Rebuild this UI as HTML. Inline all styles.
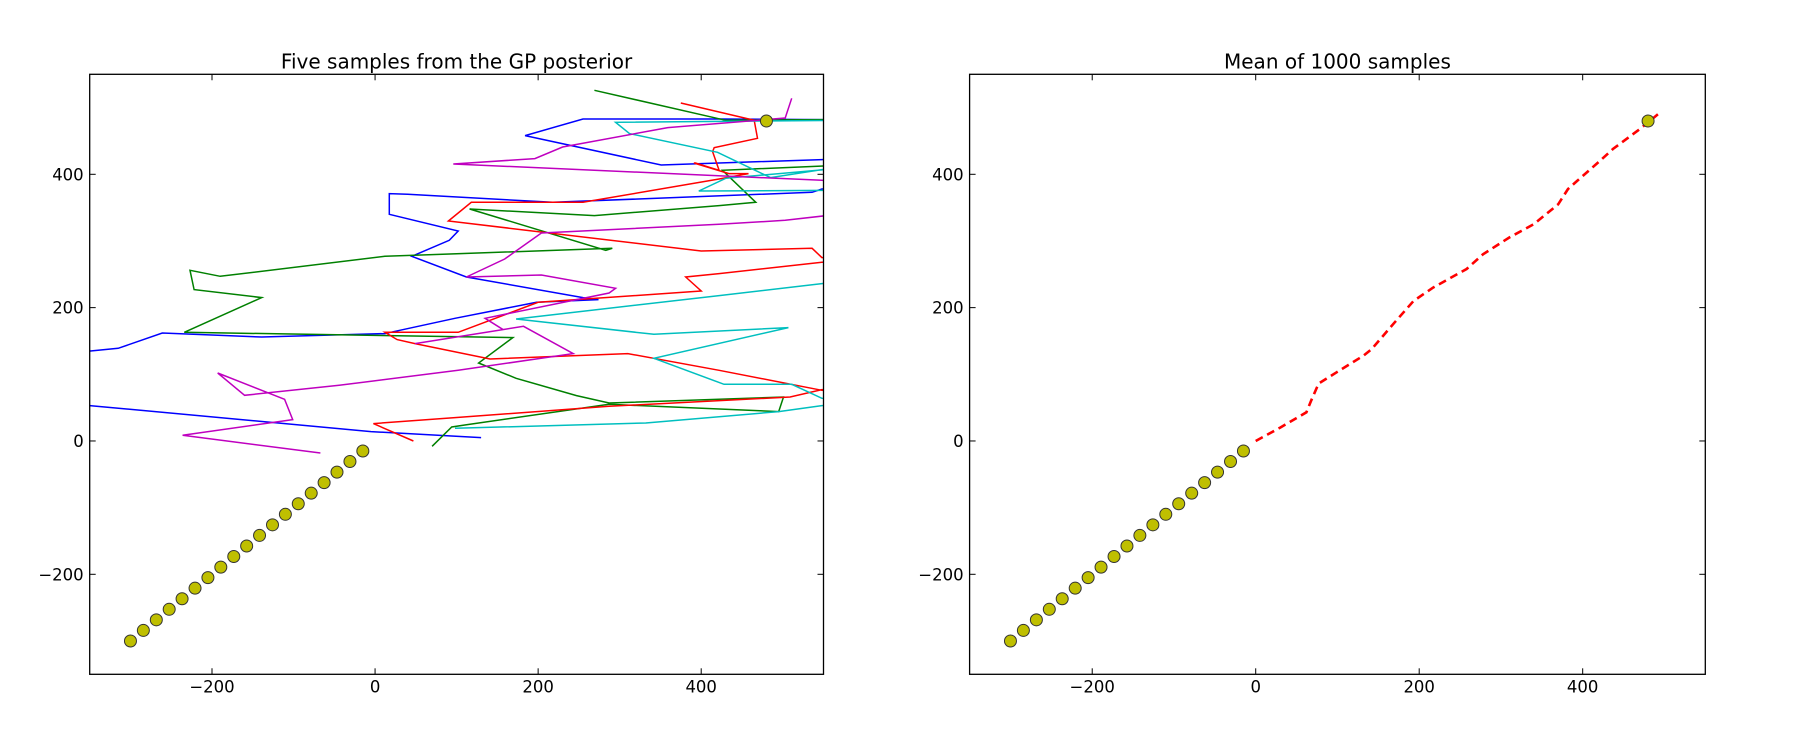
<!DOCTYPE html>
<html><head><meta charset="utf-8"><style>
html,body{margin:0;padding:0;background:#fff;}
svg{display:block;font-family:"DejaVu Sans","Liberation Sans",sans-serif;}
</style></head><body>
<svg id="fig" width="1795" height="750" viewBox="0 0 1795 750" xmlns="http://www.w3.org/2000/svg">
<defs>
<clipPath id="clipL"><rect x="89.7" y="74.3" width="733.8" height="600"/></clipPath>
<clipPath id="clipR"><rect x="969.6" y="74.3" width="735.7" height="600"/></clipPath>
</defs>
</svg>
<script>
// observed data
const obsX = [-300,-284.2,-268.3,-252.5,-236.7,-220.8,-205,-189.2,-173.3,-157.5,-141.7,-125.8,-110,-94.2,-78.3,-62.5,-46.7,-30.8,-15,480];
const obsY = [-300,-284.2,-268.3,-252.5,-236.7,-220.8,-205,-189.2,-173.3,-157.5,-141.7,-125.8,-110,-94.2,-78.3,-62.5,-46.7,-30.8,-15,480];
// samples (null = break)
const blueX = [130,-5,-350,-380,null,-380,-349,-315,-261,-139,12,19,98,198,274,255,112,45,91,102,17.5,17.5,40,218,385,536,548,580,null,580,548,422,351,184,255,422,548,580];
const blueY = [5,14,53,56,null,133,135,139,162,156,161,163,184,208,212,215,246,277,301,315,340,371,370,358,366,373,378,382,null,424,422,417,414,458,483,483,482,482];
const greenX = [70,94,110,287,495,501,287,247,173,127,169,-234,-139,-222,-227,-190,12,291,283,116,269,422,467,426,560,600,560,430,269];
const greenY = [-8,21,24,55,44,66,57,68,94,117,155,163,215,227,256,247,277,289,286,348,338,353,358,406,413,450,482,481,526];
const redX = [47,-2,98,287,509,548,580,580,548,422,310,141,49,27,12,102,200,400,381,422,548,580,580,548,536,400,90,118,255,422,458,434,391,393,422,414,416,469,465,375];
const redY = [0,26,35,52,66,77,78,74,76,106,131,123,146,152,163,163,208,225,246,251,268,271,273,275,289,285,330,358,358,393,401,401,417,417,406,434,440,454,481,507];
const cyanX = [98,332,495,548,580,580,548,511,428,342,507,342,173,422,548,580,null,580,397,430,580,null,580,548,485,420,312,295,580];
const cyanY = [19,27,44,53,56,62,64,85,85,124,170,160,183,218,236,240,null,376,375,394,410,null,409,407,395,433,461,478,481];
const magX = [-67,-236,-101,-111,-193,-160,-44,102,243,182,49,157,135,287,295,204,112,159,204,422,503,560,600,560,548,96,196,230,359,503,511];
const magY = [-18,8.5,32,62.5,102,68.5,83.5,106,131,172,146,167,184,222,229,249,246,273,312,325,331,339,360,390,391,415.5,423.5,441,470,484.5,514];
// mean of 1000 samples
const meanX = [0,30,62,68,77,99,132,142,168,193,217,258,278,310,340,370,382,393,421,437,470,492];
const meanY = [0,20,43,61,86,103,128,138,175,210,230,258,280,305,325,355,378,390,420,438,468,490];
// ticks
const xTicks = [-200,0,200,400];
const xTickLabels = ["\u2212200","0","200","400"];
const yTicks = [-200,0,200,400];
const yTickLabels = ["\u2212200","0","200","400"];

const NS = "http://www.w3.org/2000/svg";
const svg = document.getElementById('fig');
function mk(tag, attrs, parent){const e=document.createElementNS(NS,tag);for(const k in attrs)e.setAttribute(k,attrs[k]);(parent||svg).appendChild(e);return e;}

const axes = [
  {x0:89.7, x1:823.5, clip:'clipL', title:'Five samples from the GP posterior', name:'samples'},
  {x0:969.6, x1:1705.3, clip:'clipR', title:'Mean of 1000 samples', name:'mean'}
];
const Y0=74.3, Y1=674.3, DMIN=-350, DMAX=550;
function sx(ax,v){return ax.x0+(v-DMIN)/(DMAX-DMIN)*(ax.x1-ax.x0);}
function sy(v){return Y1-(v-DMIN)/(DMAX-DMIN)*(Y1-Y0);}

function pathD(ax,xs,ys){let d='',pen=false;for(let i=0;i<xs.length;i++){if(xs[i]===null){pen=false;continue;}d+=(pen?'L':'M')+sx(ax,xs[i]).toFixed(1)+','+sy(ys[i]).toFixed(1);pen=true;}return d;}

function drawAxes(ax, idx){
  const g = mk('g',{});
  
  
  const t = mk('text',{x:(ax.x0+ax.x1)/2,y:68.5,'font-size':'20','text-anchor':'middle',fill:'#000'},g);
  t.textContent = ax.title;
  
  
  const pg = mk('g',{'clip-path':'url(#'+ax.clip+')'},g);
  
  
  return {g,pg};
}

function drawFrame(ax,g){
  const fr = mk('rect',{x:ax.x0,y:Y0,width:ax.x1-ax.x0,height:Y1-Y0,fill:'none',stroke:'#000','stroke-width':'1.3'},g);
  
  
  xTicks.forEach((v,i)=>{
    const x=sx(ax,v);
    mk('line',{x1:x,y1:Y1,x2:x,y2:Y1-6,stroke:'#000','stroke-width':'1'},g);
    mk('line',{x1:x,y1:Y0,x2:x,y2:Y0+6,stroke:'#000','stroke-width':'1'},g);
    const tl = mk('text',{x:x,y:692.5,'font-size':'16.5','text-anchor':'middle',fill:'#000'},g);
    tl.textContent = xTickLabels[i];
    
    
  });
  yTicks.forEach((v,i)=>{
    const y=sy(v);
    mk('line',{x1:ax.x0,y1:y,x2:ax.x0+6,y2:y,stroke:'#000','stroke-width':'1'},g);
    mk('line',{x1:ax.x1,y1:y,x2:ax.x1-6,y2:y,stroke:'#000','stroke-width':'1'},g);
    const tl = mk('text',{x:ax.x0-6,y:y+6,'font-size':'16.5','text-anchor':'end',fill:'#000'},g);
    tl.textContent = yTickLabels[i];
    
    
  });
}

function drawObs(ax,pg){
  for(let i=0;i<obsX.length;i++){
    const c = mk('circle',{cx:sx(ax,obsX[i]),cy:sy(obsY[i]),r:6,fill:'#bfbf00',stroke:'#333','stroke-width':'1'},pg);
    
    
  }
}

// left
const L = drawAxes(axes[0],0);
const series = [[blueX,blueY,'#0000ff','sample-1-blue'],[greenX,greenY,'#008000','sample-2-green'],[redX,redY,'#ff0000','sample-3-red'],[cyanX,cyanY,'#00bfbf','sample-4-cyan'],[magX,magY,'#bf00bf','sample-5-magenta']];
series.forEach(s=>{
  const p = mk('path',{d:pathD(axes[0],s[0],s[1]),fill:'none',stroke:s[2],'stroke-width':'1.5','stroke-linejoin':'miter'},L.pg);
  
  
});
drawObs(axes[0],L.pg);
drawFrame(axes[0],L.g);

// right
const R = drawAxes(axes[1],1);
const mp = mk('path',{d:pathD(axes[1],meanX,meanY),fill:'none',stroke:'#ff0000','stroke-width':'2.6','stroke-dasharray':'8,5'},R.pg);


drawObs(axes[1],R.pg);
drawFrame(axes[1],R.g);
</script>
</body></html>
